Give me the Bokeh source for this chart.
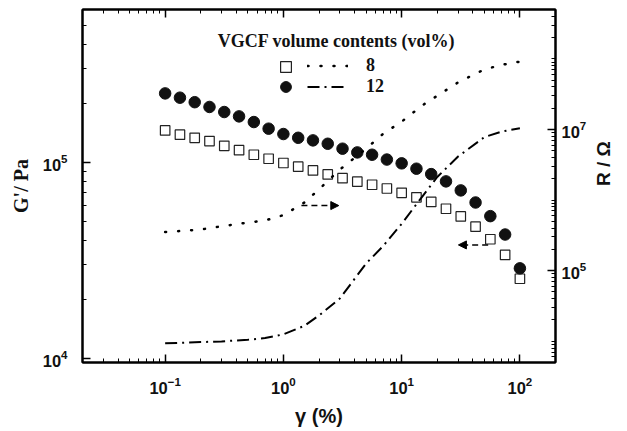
from math import pi
from bokeh.plotting import figure
from bokeh.models import (Range1d, LogScale, LogAxis, FixedTicker, LogTickFormatter,
                          Label, Arrow, NormalHead, Legend, LegendItem)
from bokeh.embed import file_html
from bokeh.resources import INLINE

# ---- data ----
gamma = [0.1, 0.1334, 0.1778, 0.2371, 0.3162, 0.4217, 0.5623, 0.7499, 1.0,
         1.334, 1.778, 2.371, 3.162, 4.217, 5.623, 7.499, 10.0,
         13.34, 17.78, 23.71, 31.62, 42.17, 56.23, 74.99, 100.0]
g_8 = [1.45e5, 1.38e5, 1.33e5, 1.28e5, 1.21e5, 1.15e5, 1.09e5, 1.04e5, 0.989e5,
       0.947e5, 0.906e5, 0.865e5, 0.828e5, 0.794e5, 0.766e5, 0.733e5, 0.697e5,
       0.661e5, 0.626e5, 0.578e5, 0.528e5, 0.468e5, 0.404e5, 0.336e5, 0.254e5]
g_12 = [2.24e5, 2.13e5, 2.02e5, 1.91e5, 1.80e5, 1.71e5, 1.60e5, 1.48e5, 1.39e5,
        1.33e5, 1.29e5, 1.24e5, 1.17e5, 1.12e5, 1.09e5, 1.03e5, 0.985e5,
        0.925e5, 0.868e5, 0.797e5, 0.717e5, 0.622e5, 0.530e5, 0.427e5, 0.287e5]
gamma_r = [0.1, 0.2, 0.3, 0.5, 0.7, 1, 1.5, 2, 3, 5, 7, 10, 15, 20, 30, 50, 70, 100]
r_8 = [3.52e5, 3.82e5, 4.25e5, 4.79e5, 5.14e5, 6.11e5, 9.18e5, 1.42e6, 2.70e6,
       5.34e6, 8.73e6, 1.29e7, 2.20e7, 3.00e7, 4.64e7, 7.07e7, 8.22e7, 9.12e7]
r_12 = [9.33e3, 9.73e3, 9.95e3, 1.05e4, 1.11e4, 1.25e4, 1.65e4, 2.32e4, 4.03e4,
        1.26e5, 2.25e5, 4.61e5, 1.13e6, 2.12e6, 4.13e6, 7.78e6, 9.31e6, 1.04e7]
legend_labels = ["8", "12"]

x_major = [0.1, 1, 10, 100]
x_minor = [m * d for d in (0.01, 0.1, 1, 10, 100) for m in range(2, 10)
           if 0.02 <= m * d <= 200]
gl_major = [1e4, 1e5]
gl_minor = [m * d for d in (1e3, 1e4, 1e5) for m in range(2, 10) if 9.5e3 <= m * d <= 6e5]
r_major = [1e5, 1e7]
r_minor = [m * d for d in (1e3, 1e4, 1e5, 1e6, 1e7, 1e8) for m in range(1, 10)
           if 5e3 <= m * d <= 5e8 and m * d not in (1e5, 1e7)]

SANS = "Liberation Sans"
SERIF = "Liberation Serif"
INK = "#111111"

p = figure(width=627, height=431, x_axis_type="log", y_axis_type="log",
           x_range=Range1d(0.02, 200), y_range=Range1d(9.5e3, 6e5),
           output_backend="svg", toolbar_location=None,
           min_border_left=82, min_border_right=71, min_border_top=9,
           min_border_bottom=69)
p.grid.visible = False
p.outline_line_color = "black"
p.outline_line_width = 2
p.background_fill_color = "white"
p.border_fill_color = "white"

p.extra_y_ranges = {"R": Range1d(5e3, 5e8)}
p.extra_y_scales = {"R": LogScale()}

# data marks
r_sq = p.scatter(gamma, g_8, marker="square", size=9.5, fill_color="white",
                 line_color="#222222", line_width=1.2)
r_ci = p.scatter(gamma, g_12, marker="circle", size=11.5, fill_color=INK,
                 line_color=INK)
r_l8 = p.line(gamma_r, r_8, y_range_name="R", line_color="black", line_width=2.5,
              line_dash="1 12", line_cap="round")
r_l12 = p.line(gamma_r, r_12, y_range_name="R", line_color="black", line_width=2,
               line_dash="12 5 2 5")

# axes
xa = p.xaxis[0]
ya = p.yaxis[0]
xa.ticker = FixedTicker(ticks=x_major, minor_ticks=x_minor)
ya.ticker = FixedTicker(ticks=gl_major, minor_ticks=gl_minor)
xa.formatter = LogTickFormatter()
ya.formatter = LogTickFormatter()

top = LogAxis(ticker=FixedTicker(ticks=x_major, minor_ticks=x_minor),
              major_label_text_font_size="1px", major_label_text_alpha=0,
              major_label_standoff=0)
right = LogAxis(y_range_name="R", ticker=FixedTicker(ticks=r_major, minor_ticks=r_minor),
                formatter=LogTickFormatter())
p.add_layout(top, "above")
p.add_layout(right, "right")

for ax in (xa, ya, top, right):
    ax.major_tick_in = 8
    ax.major_tick_out = 0
    ax.minor_tick_in = 4
    ax.minor_tick_out = 0
    ax.axis_line_width = 2
    ax.major_tick_line_width = 1.5
    ax.minor_tick_line_width = 1
    ax.major_label_text_font = SANS
    ax.major_label_text_font_style = "bold"
for ax in (xa, ya, right):
    ax.major_label_text_color = INK
    ax.major_label_text_font_size = "16.5px"
    ax.axis_label_text_color = INK
    ax.axis_label_text_font_style = "bold"
ya.major_label_standoff = 15
xa.major_label_standoff = 14
right.major_label_standoff = 6

ya.axis_label = "G'/ Pa"
ya.axis_label_text_font = SERIF
ya.axis_label_text_font_size = "20px"
ya.axis_label_standoff = 8

xa.axis_label = "γ (%)"
xa.axis_label_text_font = SANS
xa.axis_label_text_font_size = "20px"
xa.axis_label_standoff = 8

right.axis_label = "R / Ω"
right.axis_label_text_font = SANS
right.axis_label_text_font_size = "19px"
right.axis_label_standoff = 14
if "axis_label_orientation" in right.properties():
    right.axis_label_orientation = pi / 2

# legend
p.add_layout(Label(x=254, y=322, x_units="screen", y_units="screen",
                   text="VGCF volume contents (vol%)", text_align="center",
                   text_baseline="alphabetic", text_font=SERIF, text_font_style="bold",
                   text_font_size="18px", text_color=INK))
common_a = dict(glyph_width=27, glyph_height=27, padding=0, margin=0,
                border_line_color=None, background_fill_alpha=0, label_standoff=0,
                label_width=1, label_height=20, label_text_font_size="8px",
                label_text_alpha=0)
p.add_layout(Legend(items=[LegendItem(label="_", renderers=[r_sq])],
                    location=(190, 282), **common_a))
p.add_layout(Legend(items=[LegendItem(label="_", renderers=[r_ci])],
                    location=(190, 262), **common_a))
legB = Legend(items=[LegendItem(label=legend_labels[0], renderers=[r_l8]),
                     LegendItem(label=legend_labels[1], renderers=[r_l12])],
              location=(225, 265), glyph_width=41, glyph_height=21, label_height=21,
              spacing=0, padding=0, margin=0, border_line_color=None,
              background_fill_alpha=0, label_standoff=18,
              label_text_font=SERIF, label_text_font_style="bold",
              label_text_font_size="18px", label_text_baseline="middle",
              label_text_color=INK)
p.add_layout(legB)

# arrows (point to the axis each curve set belongs to)
p.add_layout(Arrow(end=NormalHead(size=8, fill_color="black", line_color="black"),
                   x_start=1.42, y_start=6.0e4, x_end=2.94, y_end=6.0e4,
                   line_dash="6 4", line_width=1.5))
p.add_layout(Arrow(end=NormalHead(size=8, fill_color="black", line_color="black"),
                   x_start=53.9, y_start=3.78e4, x_end=30.2, y_end=3.78e4,
                   line_dash="6 4", line_width=1.5))

open("out.html", "w").write(file_html(p, INLINE))
